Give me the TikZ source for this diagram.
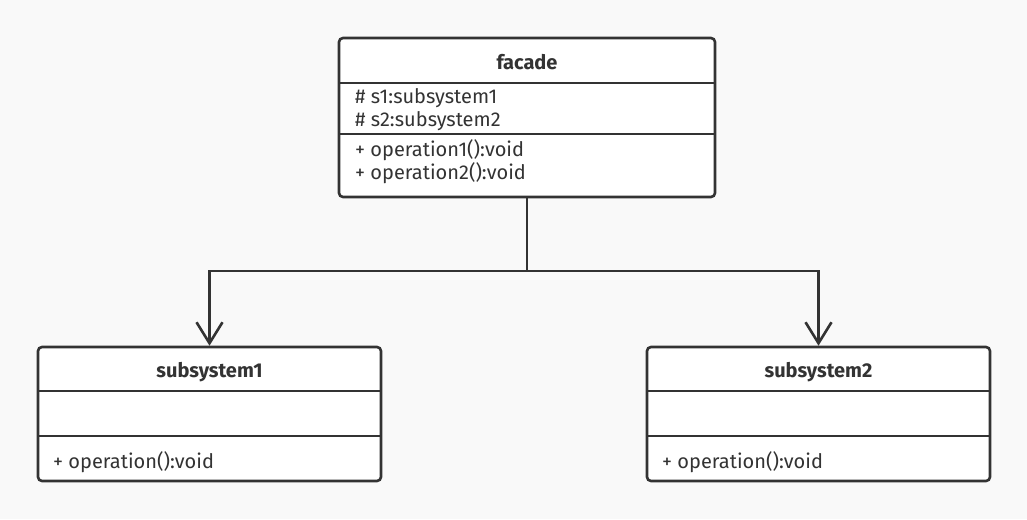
\documentclass[tikz,border=0pt]{standalone}
\usepackage{fontspec}
\setmainfont{Fira Sans}
\usetikzlibrary{arrows.meta}
\definecolor{bg}{HTML}{F9F9F9}
\definecolor{ink}{HTML}{333333}
\tikzset{
  umlbox/.style={draw=ink, fill=white, line width=2.6pt, rounded corners=4pt, inner sep=0pt},
  divider/.style={draw=ink, line width=2.6pt},
  title/.style={font=\fontsize{20}{24}\selectfont\bfseries, text=ink, inner sep=0pt},
  member/.style={font=\fontsize{20}{24}\selectfont, text=ink, inner sep=0pt, anchor=west},
  conn/.style={draw=ink, line width=2.6pt},
  assoc/.style={conn, -{Straight Barb[length=21pt,width=26pt,line width=2.6pt]}}
}
\begin{document}
\begin{tikzpicture}[x=1pt,y=-1pt]
\fill[bg] (0,0) rectangle (1027,519);
\useasboundingbox (0,0) rectangle (1027,519);
% facade
\node[umlbox, minimum width=376pt, minimum height=159pt] (facade) at (527,117.5) {};
\draw[divider] (339,83) -- (715,83);
\draw[divider] (339,134) -- (715,134);
\node[title] (ftitle) at (527,62) {facade};
\node[member] (fa1) at (355,98) {\# s1:subsystem1};
\node[member] (fa2) at (355,121) {\# s2:subsystem2};
\node[member] (fo1) at (355,150) {+ operation1():void};
\node[member] (fo2) at (355,173) {+ operation2():void};
% subsystem1
\node[umlbox, minimum width=343pt, minimum height=134pt] (sub1) at (209.5,414) {};
\draw[divider] (38,391) -- (381,391);
\draw[divider] (38,436) -- (381,436);
\node[title] (s1title) at (209.5,372) {subsystem1};
\node[member] (s1o) at (53,462) {+ operation():void};
% subsystem2
\node[umlbox, minimum width=343pt, minimum height=134pt] (sub2) at (818.5,414) {};
\draw[divider] (647,391) -- (990,391);
\draw[divider] (647,436) -- (990,436);
\node[title] (s2title) at (818.5,372) {subsystem2};
\node[member] (s2o) at (662,462) {+ operation():void};
% connectors
\coordinate (j) at (527,271);
\draw[conn] (facade.south) -- (j);
\draw[assoc] (j) -| (sub1.north);
\draw[assoc] (j) -| (sub2.north);
\end{tikzpicture}
\end{document}
